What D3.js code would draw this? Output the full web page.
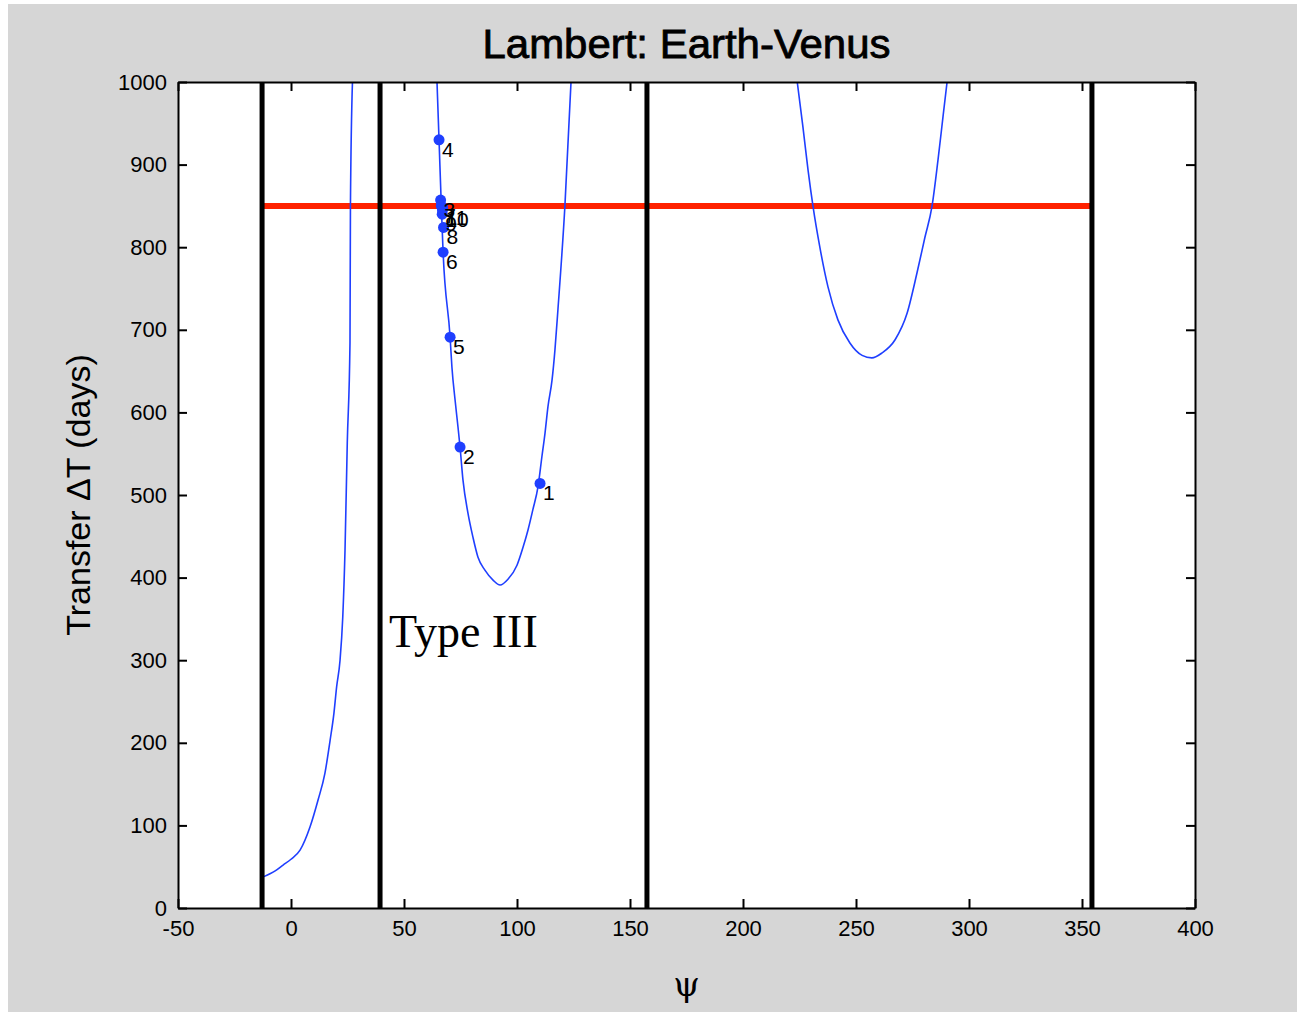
<!DOCTYPE html>
<html><head><meta charset="utf-8">
<script src="https://cdn.jsdelivr.net/npm/d3@7"></script>
<style>
html,body{margin:0;padding:0;background:#fff;}
svg{display:block;}
</style></head>
<body>
<script>
// ---------- data ----------
const titleText = "Lambert: Earth-Venus";
const xLabel = "ψ";
const yLabel = "Transfer ΔT (days)";
const annotation = "Type III";
const xTicks = [-50, 0, 50, 100, 150, 200, 250, 300, 350, 400];
const yTicks = [0, 100, 200, 300, 400, 500, 600, 700, 800, 900, 1000];
const xDomain = [-50, 400];
const yDomain = [0, 1000];

// vertical boundaries (psi) and target transfer time
const boundaryPsi = [-12.8, 39.4, 157.5, 354.4];
const targetDT = 850;

// branch 1
const branch1Psi = [-12, -7, -3.5, 0, 4, 8.4, 12, 15, 17.3, 19, 20.2, 21.7, 22.9, 23.9, 24.9, 26.1, 26.3, 27.2];
const branch1T   = [38, 45, 52, 59, 70, 98, 131, 163, 203, 236, 268, 300, 352, 433, 563, 684, 849, 1000];
// branch 2
const branch2Psi = [64.6, 65.5, 66.5, 67.3, 70.4, 71.2, 72.6, 73.9, 74.8, 76.1, 78.3, 80.5, 82.7, 85.8, 89.4, 92.5, 96, 100, 102.7, 104.9, 107, 109.3, 111, 112.4, 113.7, 115.5, 116.8, 118.1, 121.2, 123.9];
const branch2T   = [1000, 930, 851, 794, 691, 655, 615, 582, 558, 518, 478, 449, 425, 409, 397, 391, 398, 415, 437, 458, 482, 510, 546, 575, 607, 639, 676, 724, 850, 1000];
// branch 3
const branch3Psi = [224, 226.5, 228.8, 231, 234, 237.6, 242, 247.3, 252.7, 257, 261.5, 267.3, 272.6, 277, 280.5, 283.6, 286.3, 288.5, 290.3];
const branch3T   = [1000, 946, 893, 849, 800, 752, 712, 684, 669, 666, 672, 688, 720, 769, 812, 849, 906, 958, 1000];

// solution points
const solLabels = ["1", "2", "3", "4", "5", "6", "7", "8", "9", "10", "11"];
const solPsi = [110.2, 74.8, 66.2, 65.5, 70.4, 67.3, 66.5, 67.5, 66.9, 67.0, 67.1];
const solT   = [514, 558, 857, 930, 691, 794, 850, 824, 840, 845, 848];

// ---------- layout ----------
const W = 1304, H = 1016;
const M = {left: 178, right: 1195, top: 82, bottom: 908};

const svg = d3.select("body").append("svg").attr("width", W).attr("height", H);
svg.append("rect").attr("x", 8).attr("y", 4).attr("width", 1289).attr("height", 1008).attr("fill", "#d6d6d6");

const x = d3.scaleLinear().domain(xDomain).range([M.left, M.right]);
const y = d3.scaleLinear().domain(yDomain).range([M.bottom, M.top]);

svg.append("rect").attr("x", M.left).attr("y", M.top)
  .attr("width", M.right - M.left).attr("height", M.bottom - M.top).attr("fill", "#fff");

svg.append("clipPath").attr("id", "clip").append("rect")
  .attr("x", M.left).attr("y", M.top).attr("width", M.right - M.left).attr("height", M.bottom - M.top);

const plot = svg.append("g").attr("clip-path", "url(#clip)");

// red target line
plot.append("line")
  .attr("x1", x(boundaryPsi[0])).attr("x2", x(boundaryPsi[boundaryPsi.length - 1]))
  .attr("y1", y(targetDT)).attr("y2", y(targetDT))
  .attr("stroke", "#ff2200").attr("stroke-width", 6);

// blue curves
const line = d3.line().x(d => x(d[0])).y(d => y(d[1])).curve(d3.curveMonotoneX);
[[branch1Psi, branch1T], [branch2Psi, branch2T], [branch3Psi, branch3T]].forEach(([ps, ts]) => {
  plot.append("path").datum(ps.map((p, i) => [p, ts[i]]))
    .attr("d", line).attr("fill", "none").attr("stroke", "#1f3fff").attr("stroke-width", 1.6);
});

// black boundaries
plot.selectAll("line.bnd").data(boundaryPsi).enter().append("line")
  .attr("class", "bnd")
  .attr("x1", d => x(d)).attr("x2", d => x(d))
  .attr("y1", M.top).attr("y2", M.bottom)
  .attr("stroke", "#000").attr("stroke-width", 5);

// solution markers
const sols = solPsi.map((p, i) => ({p, t: solT[i], l: solLabels[i]}));
plot.selectAll("circle.sol").data(sols).enter().append("circle")
  .attr("cx", d => x(d.p)).attr("cy", d => y(d.t)).attr("r", 5.5).attr("fill", "#1f3fff");
plot.selectAll("text.sol").data(sols).enter().append("text")
  .attr("x", d => x(d.p) + 3).attr("y", d => y(d.t) + 17)
  .attr("font-family", "Liberation Sans, Arial, sans-serif").attr("font-size", 21)
  .attr("fill", "#000").text(d => d.l);

// axes (box with inward ticks on all sides)
const tickLen = 9;
const fontAx = "'Liberation Sans', Arial, sans-serif";
const fmt = d => String(d);
const xb = d3.axisBottom(x).tickValues(xTicks).tickFormat(fmt).tickSizeInner(-tickLen).tickSizeOuter(0).tickPadding(12);
const xt = d3.axisTop(x).tickValues(xTicks).tickSizeInner(-tickLen).tickSizeOuter(0).tickFormat("");
const yl = d3.axisLeft(y).tickValues(yTicks).tickFormat(fmt).tickSizeInner(-tickLen).tickSizeOuter(0).tickPadding(11);
const yr = d3.axisRight(y).tickValues(yTicks).tickSizeInner(-tickLen).tickSizeOuter(0).tickFormat("");

function style(g) {
  g.select(".domain").attr("stroke", "#000").attr("stroke-width", 2);
  g.selectAll(".tick line").attr("stroke", "#000").attr("stroke-width", 2);
  g.selectAll(".tick text").attr("font-family", fontAx).attr("font-size", 22).attr("fill", "#000");
}
svg.append("g").attr("transform", `translate(0,${M.bottom})`).call(xb).call(style);
svg.append("g").attr("transform", `translate(0,${M.top})`).call(xt).call(style);
svg.append("g").attr("transform", `translate(${M.left},0)`).call(yl).call(style);
svg.append("g").attr("transform", `translate(${M.right},0)`).call(yr).call(style);

// title
svg.append("text").attr("x", (M.left + M.right) / 2).attr("y", 58).attr("text-anchor", "middle")
  .attr("font-family", fontAx).attr("font-size", 40)
  .attr("stroke", "#000").attr("stroke-width", 0.8)
  .attr("textLength", 408).attr("lengthAdjust", "spacingAndGlyphs")
  .attr("fill", "#000").text(titleText);

// axis labels
svg.append("text").attr("x", (M.left + M.right) / 2).attr("y", 996).attr("text-anchor", "middle")
  .attr("font-family", "DejaVu Serif, serif").attr("font-size", 34).attr("fill", "#000").text(xLabel);
svg.append("text").attr("transform", `translate(90,${(M.top + M.bottom) / 2}) rotate(-90)`)
  .attr("text-anchor", "middle")
  .attr("font-family", "Liberation Sans, Arial, sans-serif").attr("font-size", 34).attr("fill", "#000").text(yLabel);

// annotation
svg.append("text").attr("x", 389).attr("y", 647)
  .attr("font-family", "Liberation Serif, Times New Roman, serif").attr("font-size", 46).attr("fill", "#000").text(annotation);
</script>
</body></html>
